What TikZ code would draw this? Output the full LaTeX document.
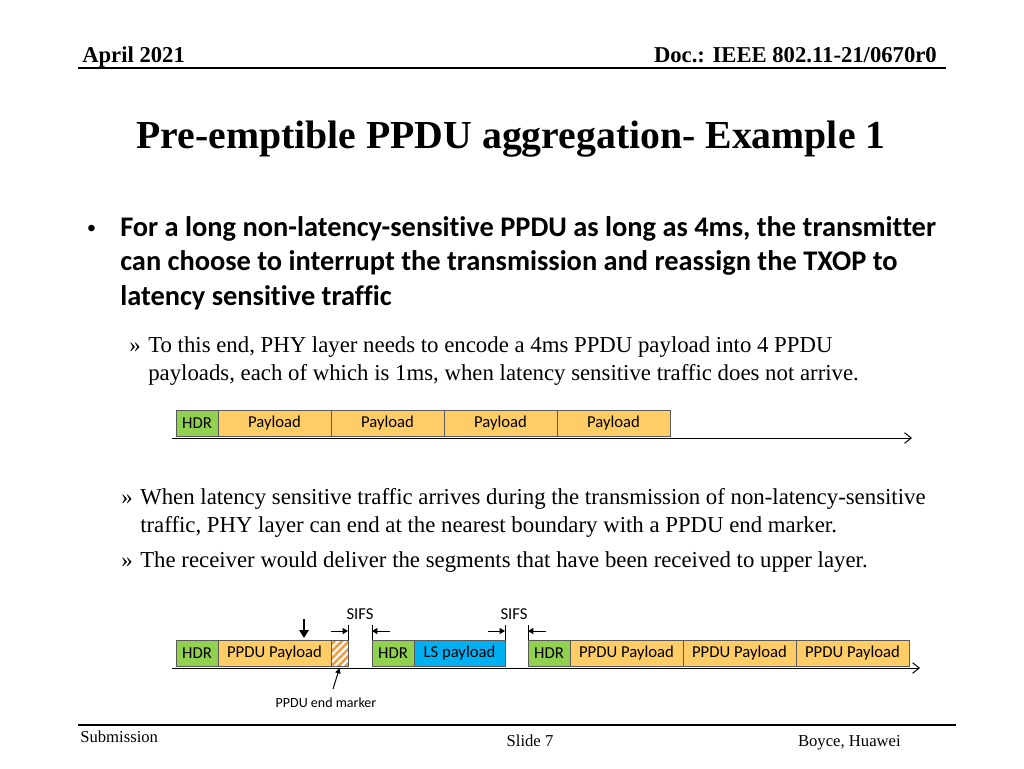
\documentclass[tikz,border=0pt]{standalone}
\usepackage{fontspec}
\setmainfont{Liberation Serif}
\newfontfamily\calfont{Carlito}[Ligatures={NoCommon}]
\newfontfamily\arialfont{Liberation Sans}
\usetikzlibrary{arrows.meta,patterns.meta,positioning}
\definecolor{hdrgreen}{HTML}{92D050}
\definecolor{payorange}{HTML}{FFCC66}
\definecolor{lsblue}{HTML}{00B0F0}
\definecolor{hatchorange}{HTML}{F29A3E}
\definecolor{boxline}{HTML}{595959}
\begin{document}
\begin{tikzpicture}[x=0.75pt,y=-0.75pt,
  box/.style={draw=boxline, line width=0.75pt, outer sep=0pt, inner sep=0pt,
    minimum height=19.5pt, font=\calfont\fontsize{12.5}{14}\selectfont, anchor=west},
  hdr/.style={box, fill=hdrgreen, minimum width=31.5pt},
  pay/.style={box, fill=payorange, minimum width=84.75pt},
  lspay/.style={box, fill=lsblue, minimum width=68.25pt},
  endmark/.style={box, minimum width=12.75pt,
    pattern={Lines[angle=45,distance=3.8pt,line width=1.9pt]}, pattern color=hatchorange},
  axis/.style={line width=0.75pt, -{Straight Barb[length=5pt,width=8pt]}},
  sifstick/.style={line width=0.6pt},
  sifsarrow/.style={line width=0.75pt, -{Triangle[length=4pt,width=4.5pt]}},
  hdrtext/.style={inner sep=0pt, anchor=base, font=\bfseries\fontsize{17}{20}\selectfont},
  bullettext/.style={inner sep=0pt, anchor=base west, font=\calfont\bfseries\fontsize{21.3}{24}\selectfont},
  subtext/.style={inner sep=0pt, anchor=base west, font=\fontsize{17.1}{20}\selectfont},
  smalllabel/.style={font=\calfont\fontsize{12.5}{14}\selectfont},
  tinylabel/.style={font=\calfont\fontsize{10.5}{12}\selectfont},
  foottext/.style={inner sep=0pt, anchor=base, font=\fontsize{12.5}{15}\selectfont}
]
\useasboundingbox (0,0) rectangle (1024,768);

% header
\node[hdrtext, anchor=base west] (date) at (82,62) {April 2021};
\node[hdrtext, anchor=base east] (doc) at (937,62) {Doc.: IEEE 802.11-21/0670r0};
\coordinate (hl0) at (78,68); \coordinate (hl1) at (946,68);
\draw[line width=1.5pt] (hl0) -- (hl1);

% title
\node[inner sep=0pt, anchor=base, font=\bfseries\fontsize{29.8}{34}\selectfont] (title) at (511,148)
  {Pre-emptible PPDU aggregation- Example 1};

% main bullet
\node[inner sep=0pt, anchor=base west, font=\arialfont\fontsize{18}{22}\selectfont] (dot) at (87,236) {•};
\node[bullettext] (l1) at (120,236) {For a long non-latency-sensitive PPDU as long as 4ms, the transmitter};
\node[bullettext] (l2) at (120,270) {can choose to interrupt the transmission and reassign the TXOP to};
\node[bullettext] (l3) at (120,305) {latency sensitive traffic};

% sub bullet 1
\node[subtext] (s1m) at (129,352) {»};
\node[subtext] (s1a) at (148,352) {To this end, PHY layer needs to encode a 4ms PPDU payload into 4 PPDU};
\node[subtext] (s1b) at (148,380) {payloads, each of which is 1ms, when latency sensitive traffic does not arrive.};

% diagram 1
\node[hdr] (a0) at (176,423) {HDR};
\node[pay, right=0pt of a0] (a1) {Payload};
\node[pay, right=0pt of a1] (a2) {Payload};
\node[pay, right=0pt of a2] (a3) {Payload};
\node[pay, right=0pt of a3] (a4) {Payload};
\coordinate (ax0) at (172,438); \coordinate (ax1) at (912,438);
\draw[axis] (ax0) -- (ax1);

% sub bullets 2 and 3
\node[subtext] (s2m) at (121,504) {»};
\node[subtext] (s2a) at (140,504) {When latency sensitive traffic arrives during the transmission of non-latency-sensitive};
\node[subtext] (s2b) at (140,532) {traffic, PHY layer can end at the nearest boundary with a PPDU end marker.};
\node[subtext] (s3m) at (121,567) {»};
\node[subtext] (s3a) at (140,567) {The receiver would deliver the segments that have been received to upper layer.};

% diagram 2
\node[hdr] (b0) at (176,653) {HDR};
\node[pay, right=0pt of b0] (b1) {PPDU Payload};
\node[endmark, right=0pt of b1] (b2) {};
\node[hdr] (b3) at (372,653) {HDR};
\node[lspay, right=0pt of b3] (b4) {LS payload};
\node[hdr] (b5) at (528,653) {HDR};
\node[pay, right=0pt of b5] (b6) {PPDU Payload};
\node[pay, right=0pt of b6] (b7) {PPDU Payload};
\node[pay, right=0pt of b7] (b8) {PPDU Payload};
\coordinate (bx0) at (172,668); \coordinate (bx1) at (920,668);
\draw[axis] (bx0) -- (bx1);

% SIFS markers
\node[smalllabel] (sifs1) at (360,614) {SIFS};
\node[smalllabel] (sifs2) at (514,614) {SIFS};
\draw[sifstick] (b2.north east) -- ++(0,-15);
\draw[sifstick] (b3.north west) -- ++(0,-15);
\draw[sifstick] (b4.north east) -- ++(0,-15);
\draw[sifstick] (b5.north west) -- ++(0,-15);
\draw[sifsarrow] ([shift={(-17,-9)}]b2.north east) -- ([shift={(0,-9)}]b2.north east);
\draw[sifsarrow] ([shift={(18,-9)}]b3.north west) -- ([shift={(0,-9)}]b3.north west);
\draw[sifsarrow] ([shift={(-17,-9)}]b4.north east) -- ([shift={(0,-9)}]b4.north east);
\draw[sifsarrow] ([shift={(18,-9)}]b5.north west) -- ([shift={(0,-9)}]b5.north west);

% arrival arrow
\coordinate (arr) at (304,619);
\draw[line width=1.8pt, -{Triangle[length=6pt,width=7pt]}] (arr) -- ([shift={(86,-2)}]b1.north west);

% end marker label
\node[tinylabel] (eml) at (326,703) {PPDU end marker};
\coordinate (emtail) at (333,689);
\draw[line width=0.75pt, -{Triangle[length=4pt,width=4pt]}] (emtail) -- ([shift={(0,2)}]b2.south);

% footer
\coordinate (fl0) at (78,725); \coordinate (fl1) at (956,725);
\draw[line width=1.5pt] (fl0) -- (fl1);
\node[foottext, anchor=base west] (sub) at (80,742) {Submission};
\node[foottext] (slide) at (530,746) {Slide 7};
\node[foottext, anchor=base east] (auth) at (901,746) {Boyce, Huawei};
\end{tikzpicture}
\end{document}
